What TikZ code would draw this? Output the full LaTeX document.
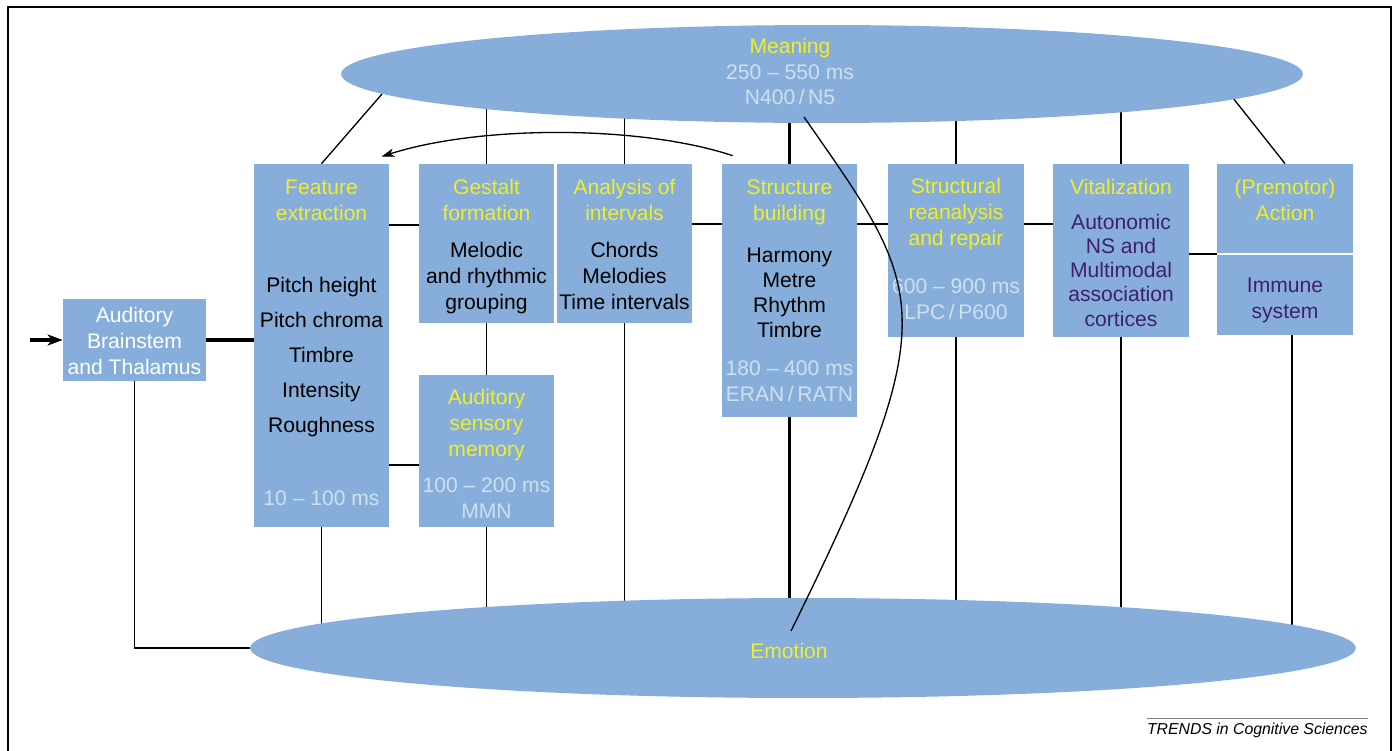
\documentclass[tikz,border=0pt]{standalone}
\usepackage{fontspec}
\setmainfont{Liberation Sans}
\usepackage{tikz}
\usetikzlibrary{calc}
\usetikzlibrary{shapes,arrows.meta}
\usetikzlibrary{fit,backgrounds}

\definecolor{boxblue}{RGB}{135,174,218}
\definecolor{ttlyellow}{RGB}{240,238,40}
\definecolor{mspale}{RGB}{205,224,236}
\definecolor{nspurple}{RGB}{62,32,112}

\begin{document}
\begin{tikzpicture}[x=0.02cm,y=-0.02cm]
	\tikzstyle{every node}=[font=\fontsize{12}{14.6}\selectfont, inner sep=0pt]
	\tikzstyle{box}=[fill=boxblue, draw=none, inner sep=0pt]
	\tikzstyle{ttl}=[text=ttlyellow, align=center, anchor=base]
	\tikzstyle{lst}=[text=black, align=center, anchor=base]
	\tikzstyle{tms}=[text=mspale, align=center, anchor=base]
	\tikzstyle{prp}=[text=nspurple, align=center, anchor=base]
	\tikzstyle{con}=[line width=0.75pt]
	\tikzstyle{bold con}=[line width=1.9pt]
	\useasboundingbox (0,0) rectangle (1395,750);
	
	% frame
	\draw[line width=1.2pt] (8,752) -- (8,7) -- (1391,7) -- (1391,752);
	
	% ellipses
	\node[ellipse, fill=boxblue, minimum width=19.24cm, minimum height=1.96cm] (mean) at (822,74) {};
	\node[ellipse, fill=boxblue, minimum width=22.12cm, minimum height=2cm] (emo) at (803,648) {};
	
	% boxes
	\node[box, fit={(63,299) (206,381)}] (aud) {};
	\node[box, fit={(254,164) (389,527)}] (fe) {};
	\node[box, fit={(419,164) (554,323)}] (gf) {};
	\node[box, fit={(557,164) (692,323)}] (an) {};
	\node[box, fit={(419,375) (554,527)}] (asm) {};
	\node[box, fit={(722,164) (857,417)}] (sb) {};
	\node[box, fit={(888,164) (1024,337)}] (sr) {};
	\node[box, fit={(1053,164) (1189,337)}] (vi) {};
	\node[box, fit={(1217,164) (1353,253)}] (pa) {};
	\node[box, fit={(1217,255) (1353,335)}] (is) {};
	
	% connectors
	\begin{scope}[on background layer]
	\coordinate (in) at (30,340);
	\draw[con] (aud.south) |- (emo.west);
	\draw[bold con] (aud.east) -- (aud.east -| fe.west);
	\draw[con] (fe.east |- 0,225) -- (gf.west |- 0,225);
	\draw[con] (fe.east |- 0,465) -- (asm.west |- 0,465);
	\draw[con] (fe.north) -- (382,94);
	\draw[con] (fe.south) -- (fe.south |- emo.center);
	\draw[con] (gf.north) -- (gf.north |- mean.center);
	\draw[con] (gf.south) -- (asm.north);
	\draw[con] (asm.south) -- (asm.south |- emo.center);
	\draw[con] (an.north) -- (an.north |- mean.center);
	\draw[con] (an.south) -- (an.south |- emo.center);
	\draw[con] (an.east |- 0,224) -- (sb.west |- 0,224);
	\draw[bold con] (sb.north) -- (sb.north |- mean.center);
	\draw[bold con] (sb.south) -- (sb.south |- emo.center);
	\draw[con] (sb.east |- 0,224) -- (sr.west |- 0,224);
	\draw[con] (sr.north) -- (sr.north |- mean.center);
	\draw[con] (sr.south) -- (sr.south |- emo.center);
	\draw[con] (sr.east |- 0,224) -- (vi.west |- 0,224);
	\draw[con] (vi.north) -- (vi.north |- mean.center);
	\draw[con] (vi.south) -- (vi.south |- emo.center);
	\draw[con] (vi.east |- 0,254) -- (pa.west |- 0,254);
	\draw[con] (pa.north) -- (1233,98);
	\draw[con] ([xshift=0.14cm]is.south) -- ([xshift=0.14cm]is.south |- emo.center);
	\end{scope}
	\draw[bold con, -{Stealth[length=0.3cm,width=0.22cm,inset=0.08cm]}] (in) -- (aud.west);
	
	% text (anchored at the last baseline)
	\node[ttl, text=white] (aud-t) at (134.5,374) {Auditory\\Brainstem\\and Thalamus};
	\node[ttl] (fe-t) at (321.5,220) {Feature\\extraction};
	\node[lst, font=\fontsize{12}{19.8}\selectfont] (fe-l) at (321.5,432) {Pitch height\\Pitch chroma\\Timbre\\Intensity\\Roughness};
	\node[tms] (fe-ms) at (321.5,505) {10 – 100 ms};
	\node[ttl] (gf-t) at (486.5,220) {Gestalt\\formation};
	\node[lst] (gf-l) at (486.5,309) {Melodic\\and rhythmic\\grouping};
	\node[ttl] (an-t) at (624.5,220) {Analysis of\\intervals};
	\node[lst] (an-l) at (624.5,309) {Chords\\Melodies\\Time intervals};
	\node[ttl] (asm-t) at (486.5,456) {Auditory\\sensory\\memory};
	\node[tms] (asm-ms) at (486.5,518) {100 – 200 ms\\MMN};
	\node[ttl] (sb-t) at (789.5,220) {Structure\\building};
	\node[lst, font=\fontsize{12}{14.2}\selectfont] (sb-l) at (789.5,337) {Harmony\\Metre\\Rhythm\\Timbre};
	\node[tms] (sb-ms) at (789.5,401) {180 – 400 ms\\ERAN\,/\,RATN};
	\node[ttl] (sr-t) at (956,245) {Structural\\reanalysis\\and repair};
	\node[tms] (sr-ms) at (956,319) {600 – 900 ms\\LPC\,/\,P600};
	\node[ttl] (vi-t) at (1121,194) {Vitalization};
	\node[prp, font=\fontsize{12}{13.7}\selectfont] (vi-l) at (1121,326) {Autonomic\\NS and\\Multimodal\\association\\cortices};
	\node[ttl] (pa-t) at (1285,220) {(Premotor)\\Action};
	\node[prp] (is-l) at (1285,318) {Immune\\system};
	\node[tms] (mean-t) at (790,105) {{\color{ttlyellow}Meaning}\\250 – 550 ms\\N400\,/\,N5};
	\node[ttl] (emo-t) at (789,658) {Emotion};
	\node[font=\fontsize{9}{11}\selectfont\itshape, anchor=base east] (trends) at (1368,734) {TRENDS in Cognitive Sciences};
	\draw[gray, line width=0.8pt] ([yshift=2pt]trends.north west) -- ([yshift=2pt]trends.north east);
	
	% feedback curves
	\draw[con, -{Stealth[length=0.26cm,width=0.17cm,inset=0.07cm]}] ($(sb.north west)+(11,-8)$) .. controls (640,125) and (480,125) .. ($(fe.north east)+(-8,-7)$);
	\draw[con] ($(mean.center)+(-18,43)$) .. controls (926,292) and (948,312) .. ($(emo.center)+(-12,-17)$);
	
\end{tikzpicture}
\end{document}
